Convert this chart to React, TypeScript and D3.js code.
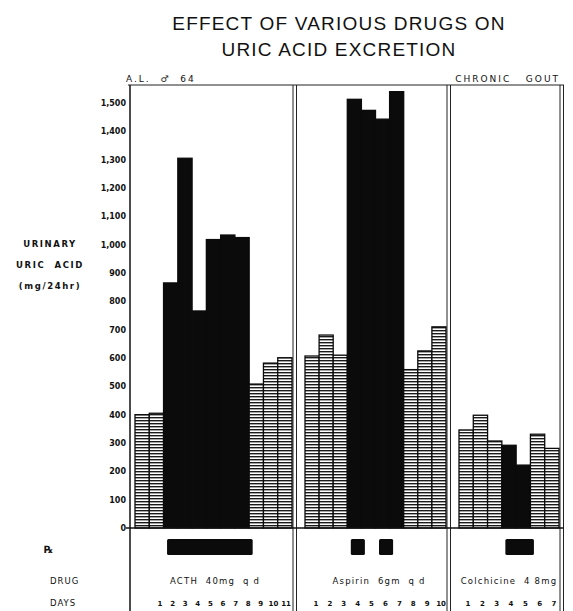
import { useEffect, useRef } from "react"
import * as d3 from "d3"

// urinary uric acid, mg/24hr, one value per day
const acthValues = [400, 405, 865, 1305, 766, 1018, 1034, 1025, 508, 582, 601]
const acthTreated = [3, 4, 5, 6, 7, 8]
const aspirinValues = [607, 681, 610, 1513, 1474, 1443, 1540, 559, 625, 710]
const aspirinTreated = [4, 5, 6, 7]
const colchicineValues = [346, 398, 307, 292, 222, 331, 281]
const colchicineTreated = [4, 5]

// Rx periods (first day, last day)
const acthRx = [[3, 8]]
const aspirinRx = [[4, 4], [6, 6]]
const colchicineRx = [[4, 5]]

const drugNames = ["ACTH  40mg  q d", "Aspirin  6gm  q d", "Colchicine  4 8mg"]
const yTicks = [0, 100, 200, 300, 400, 500, 600, 700, 800, 900, 1000, 1100, 1200, 1300, 1400, 1500]
const titleLines = ["EFFECT OF VARIOUS DRUGS ON", "URIC ACID EXCRETION"]
const yTitle = ["URINARY", "URIC  ACID", "(mg/24hr)"]
const rowLabels = ["DRUG", "DAYS"]

const W = 573
const H = 611
const font = "'DejaVu Sans', sans-serif"

function App() {
	const ref = useRef()

	useEffect(() => {
		const svg = d3.select(ref.current)
		svg.selectAll("*").remove()

		const panels = [
			{ values: acthValues, treated: acthTreated, rx: acthRx, x: [135, 292], days: [160, 286] },
			{ values: aspirinValues, treated: aspirinTreated, rx: aspirinRx, x: [305, 446], days: [316, 441] },
			{ values: colchicineValues, treated: colchicineTreated, rx: colchicineRx, x: [459, 559], days: [468, 554] },
		]

		const y = d3.scaleLinear().domain([0, 1500]).range([528, 103])
		const axisX = 130
		const top = 85

		const defs = svg.append("defs")
		const pat = defs
			.append("pattern")
			.attr("id", "hatch")
			.attr("patternUnits", "userSpaceOnUse")
			.attr("width", 8)
			.attr("height", 3)
			.attr("y", 0)
		pat.append("rect").attr("width", 8).attr("height", 3).attr("fill", "#fff")
		pat.append("rect").attr("width", 8).attr("height", 1.4).attr("fill", "#1a1a1a")

		// title
		svg
			.append("g")
			.selectAll("text")
			.data(titleLines)
			.enter()
			.append("text")
			.attr("x", 339)
			.attr("y", (d, i) => 30 + i * 26)
			.attr("text-anchor", "middle")
			.attr("font-family", "'Liberation Sans', sans-serif")
			.attr("font-size", 19)
			.attr("letter-spacing", 1.2)
			.attr("fill", "#111")
			.text((d) => d)

		// header
		svg
			.append("text")
			.attr("x", 126)
			.attr("y", 82)
			.attr("font-family", font)
			.attr("font-size", 9)
			.attr("letter-spacing", 2)
			.attr("fill", "#111")
			.style("white-space", "pre")
			.text("A.L.  \u2642  64")
		svg
			.append("text")
			.attr("x", 560)
			.attr("y", 82)
			.attr("text-anchor", "end")
			.attr("font-family", font)
			.attr("font-size", 9)
			.attr("letter-spacing", 2)
			.attr("fill", "#111")
			.style("white-space", "pre")
			.text("CHRONIC   GOUT")

		// frame lines
		svg
			.append("line")
			.attr("x1", axisX - 2)
			.attr("x2", 564)
			.attr("y1", top)
			.attr("y2", top)
			.attr("stroke", "#222")
			.attr("stroke-width", 1)
		svg
			.append("line")
			.attr("x1", axisX)
			.attr("x2", axisX)
			.attr("y1", top)
			.attr("y2", H)
			.attr("stroke", "#111")
			.attr("stroke-width", 1.5)
		;[293, 296.5, 447, 450.5, 560, 563.5].forEach((x) => {
			svg
				.append("line")
				.attr("x1", x)
				.attr("x2", x)
				.attr("y1", top)
				.attr("y2", H)
				.attr("stroke", "#222")
				.attr("stroke-width", 1)
		})

		// y axis labels
		const yAxis = svg
			.append("g")
			.attr("transform", `translate(${axisX},0)`)
			.call(d3.axisLeft(y).tickValues(yTicks).tickFormat(d3.format(",")).tickSize(0).tickPadding(4))
		yAxis.select(".domain").remove()
		yAxis
			.selectAll("text")
			.attr("font-family", font)
			.attr("font-size", 8)
			.attr("font-weight", "bold")
			.attr("fill", "#111")

		svg
			.append("g")
			.selectAll("text")
			.data(yTitle)
			.enter()
			.append("text")
			.attr("x", 50)
			.attr("y", (d, i) => 247 + i * 21)
			.attr("text-anchor", "middle")
			.attr("font-family", font)
			.attr("font-size", 8.5)
			.attr("font-weight", "bold")
			.attr("letter-spacing", 1.6)
			.attr("fill", "#111")
			.style("white-space", "pre")
			.text((d) => d)

		// bars
		panels.forEach((p, pi) => {
			const days = p.values.map((v, i) => i + 1)
			const x = d3.scaleBand().domain(days).range(p.x).padding(0)
			const g = svg.append("g")

			g.selectAll("rect")
				.data(p.values)
				.enter()
				.append("rect")
				.attr("x", (d, i) => x(i + 1))
				.attr("y", (d) => y(d))
				.attr("width", x.bandwidth())
				.attr("height", (d) => y(0) - y(d))
				.attr("fill", (d, i) => (p.treated.includes(i + 1) ? "#0b0b0b" : "url(#hatch)"))
				.attr("stroke", "#0b0b0b")
				.attr("stroke-width", 1.3)

			// Rx marks
			g.selectAll(".rx")
				.data(p.rx)
				.enter()
				.append("rect")
				.attr("class", "rx")
				.attr("x", (d) => x(d[0]) + 3.5)
				.attr("y", 539)
				.attr("width", (d) => (d[1] - d[0] + 1) * x.bandwidth())
				.attr("height", 16)
				.attr("rx", 1.5)
				.attr("fill", "#0b0b0b")

			// drug name
			g.append("text")
				.attr("x", [215, 379, 509][pi])
				.attr("y", 584)
				.attr("text-anchor", "middle")
				.attr("font-family", font)
				.attr("font-size", 8.5)
				.attr("letter-spacing", 1.2)
				.attr("fill", "#111")
				.style("white-space", "pre")
				.text(drugNames[pi])

			// day numbers
			const dx = d3.scalePoint().domain(days).range(p.days)
			g.selectAll(".day")
				.data(days)
				.enter()
				.append("text")
				.attr("class", "day")
				.attr("x", (d) => dx(d))
				.attr("y", 606)
				.attr("text-anchor", "middle")
				.attr("font-family", font)
				.attr("font-size", 7)
				.attr("font-weight", "bold")
				.attr("fill", "#111")
				.text((d) => d)
		})

		// baseline
		svg
			.append("line")
			.attr("x1", axisX - 4)
			.attr("x2", 563.5)
			.attr("y1", y(0))
			.attr("y2", y(0))
			.attr("stroke", "#111")
			.attr("stroke-width", 1.3)

		// row labels
		svg
			.append("text")
			.attr("x", 44)
			.attr("y", 553)
			.attr("font-family", font)
			.attr("font-size", 10)
			.attr("font-weight", "bold")
			.attr("fill", "#111")
			.text("\u211E")
		svg
			.append("g")
			.selectAll("text")
			.data(rowLabels)
			.enter()
			.append("text")
			.attr("x", 50)
			.attr("y", (d, i) => 584 + i * 22)
			.attr("font-family", font)
			.attr("font-size", 8.5)
			.attr("letter-spacing", 1)
			.attr("fill", "#111")
			.text((d) => d)
	}, [])

	return (
		<svg
			ref={ref}
			width={W}
			height={H}
			style={{ position: "absolute", left: 0, top: 0, background: "#fff" }}
		></svg>
	)
}

export default App
